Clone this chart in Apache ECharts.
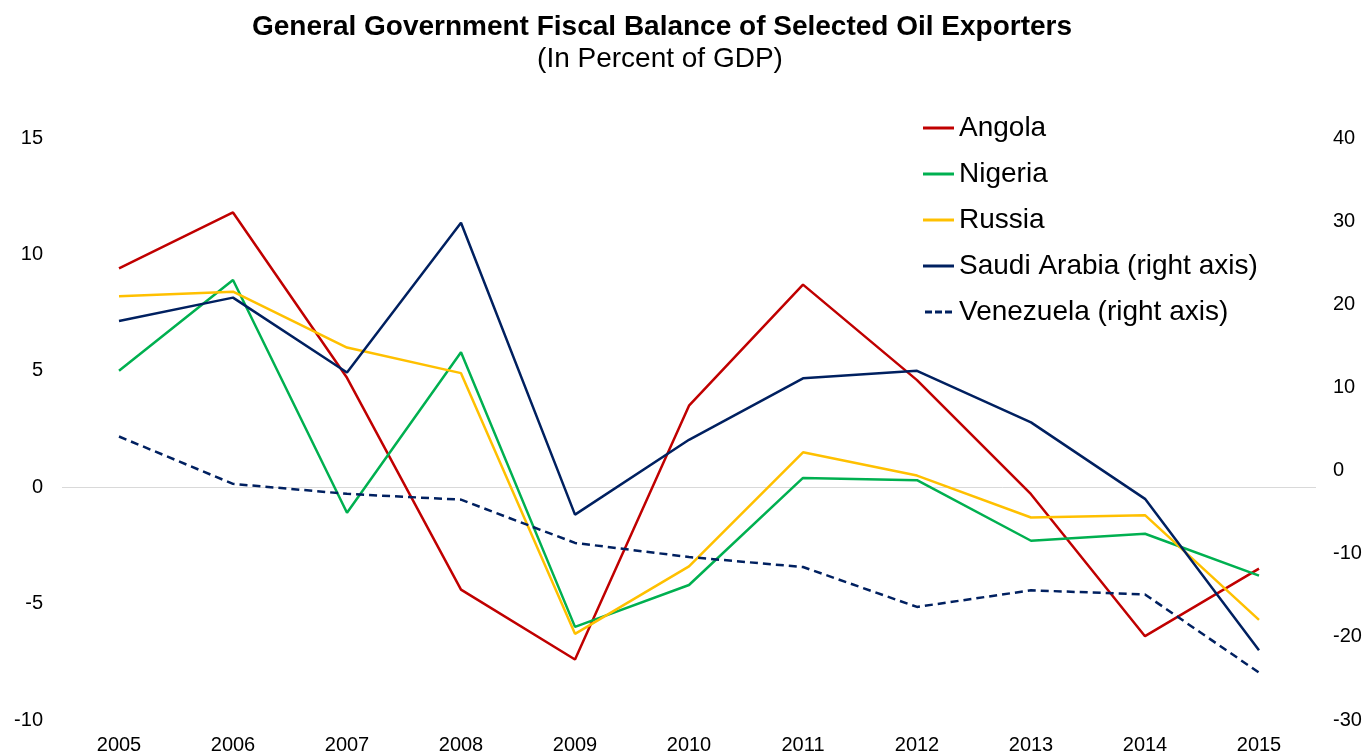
<!DOCTYPE html>
<html>
<head>
<meta charset="utf-8">
<script src="https://cdn.jsdelivr.net/npm/echarts@6/dist/echarts.min.js"></script>
<style>
html,body{margin:0;padding:0;background:#fff;}
#chart{width:1366px;height:756px;}
</style>
</head>
<body>
<div id="chart"></div>
<script>
const years = ['2005','2006','2007','2008','2009','2010','2011','2012','2013','2014','2015'];
const angola = [9.4, 11.8, 4.7, -4.4, -7.4, 3.5, 8.7, 4.6, -0.3, -6.4, -3.5];
const nigeria = [5.0, 8.9, -1.1, 5.8, -6.0, -4.2, 0.4, 0.3, -2.3, -2.0, -3.8];
const russia = [8.2, 8.4, 6.0, 4.9, -6.3, -3.4, 1.5, 0.5, -1.3, -1.2, -5.7];
const saudiArabia = [18.0, 20.8, 11.8, 29.8, -5.3, 3.7, 11.1, 12.0, 5.8, -3.4, -21.6];
const venezuela = [4.1, -1.6, -2.8, -3.5, -8.7, -10.4, -11.6, -16.4, -14.4, -14.9, -24.3];

const FONT = "'Liberation Sans', Arial, sans-serif";
const chart = echarts.init(document.getElementById('chart'), null, {renderer: 'canvas'});

const colors = ['#C00000', '#00B050', '#FFC000', '#002060', '#002060'];

function lineSeries(name, data, color, yIdx, dashed) {
  return {
    name: name,
    type: 'line',
    yAxisIndex: yIdx,
    data: data,
    symbol: 'none',
    lineStyle: {color: color, width: 2.5, type: dashed ? [8, 5] : 'solid'},
    itemStyle: {color: color},
    z: 3
  };
}

const series = [
  lineSeries('Angola', angola, colors[0], 0, false),
  lineSeries('Nigeria', nigeria, colors[1], 0, false),
  lineSeries('Russia', russia, colors[2], 0, false),
  lineSeries('Saudi Arabia (right axis)', saudiArabia, colors[3], 1, false),
  lineSeries('Venezuela (right axis)', venezuela, colors[4], 1, true)
];
series[0].markLine = {
  silent: true,
  symbol: ['none', 'none'],
  label: {show: false},
  lineStyle: {color: '#D9D9D9', width: 1, type: 'solid'},
  data: [{yAxis: 0}],
  z: 1
};

const solidIcon = 'rect';
const dashIcon = 'path://M0,0h7v3h-7z M10,0h7v3h-7z M20,0h7v3h-7z';

chart.setOption({
  animation: false,
  backgroundColor: '#fff',
  textStyle: {fontFamily: FONT},
  title: [
    {
      text: 'General Government Fiscal Balance of Selected Oil Exporters',
      left: 662, top: 11, textAlign: 'center', padding: 0,
      textStyle: {fontFamily: FONT, fontSize: 28, fontWeight: 'bold', color: '#000', lineHeight: 32}
    },
    {
      text: '(In Percent of GDP)',
      left: 660, top: 43, textAlign: 'center', padding: 0,
      textStyle: {fontFamily: FONT, fontSize: 28, fontWeight: 'normal', color: '#000', lineHeight: 32}
    }
  ],
  legend: {
    orient: 'vertical',
    left: 923,
    top: 113,
    padding: 0,
    itemWidth: 31,
    itemHeight: 3,
    itemGap: 16,
    textStyle: {fontFamily: FONT, fontSize: 28, color: '#000', lineHeight: 30},
    data: series.map((s, i) => ({
      name: s.name,
      icon: i === 4 ? dashIcon : solidIcon,
      itemStyle: {color: colors[i], borderWidth: 0, opacity: 1}
    }))
  },
  grid: {left: 62, right: 50, top: 138, bottom: 36, containLabel: false},
  xAxis: {
    type: 'category',
    data: years,
    boundaryGap: true,
    axisLine: {show: false},
    axisTick: {show: false},
    splitLine: {show: false},
    axisLabel: {fontFamily: FONT, fontSize: 20, color: '#000', margin: 15, lineHeight: 20, interval: 0}
  },
  yAxis: [
    {
      type: 'value', min: -10, max: 15, interval: 5,
      axisLine: {show: false}, axisTick: {show: false}, splitLine: {show: false},
      axisLabel: {fontFamily: FONT, fontSize: 20, color: '#000', margin: 19}
    },
    {
      type: 'value', min: -30, max: 40, interval: 10, position: 'right',
      axisLine: {show: false}, axisTick: {show: false}, splitLine: {show: false},
      axisLabel: {fontFamily: FONT, fontSize: 20, color: '#000', margin: 17}
    }
  ],
  series: series
});
</script>
</body>
</html>
